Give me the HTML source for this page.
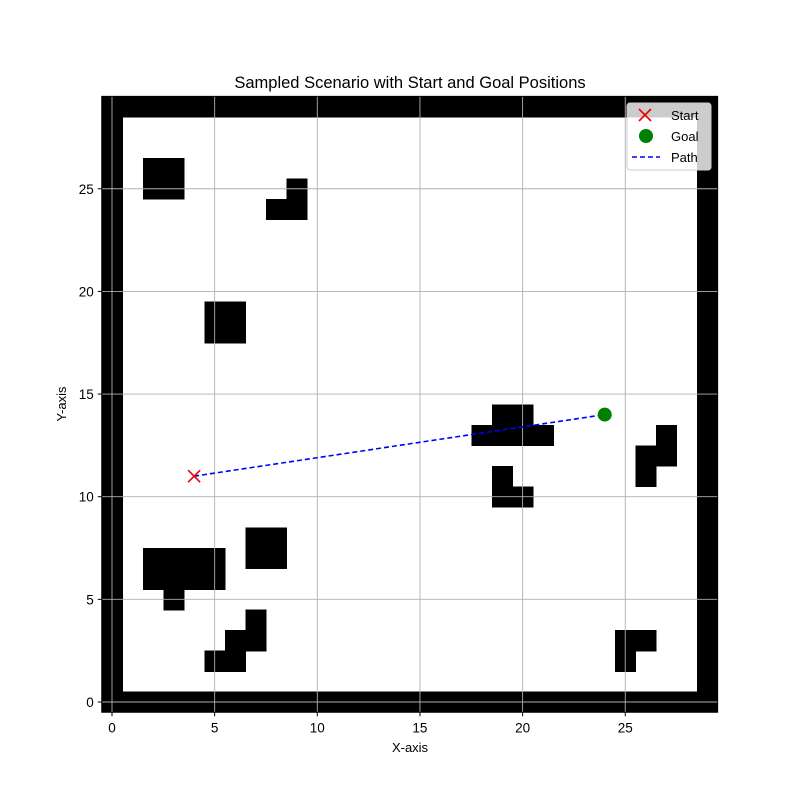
<!DOCTYPE html>
<html><head><meta charset="utf-8"><style>body{margin:0;background:#fff}svg{font-family:"Liberation Sans","DejaVu Sans",sans-serif}</style></head>
<body>
<svg id="chart" width="800" height="800" xmlns="http://www.w3.org/2000/svg">
<rect width="800" height="800" fill="#fff"/>
<g id="cells" shape-rendering="crispEdges"></g>
<g id="grid"></g>
<g id="axes"></g>
<g id="marks"></g>
<text x="410" y="88" text-anchor="middle" font-size="16.5">Sampled Scenario with Start and Goal Positions</text>
<text x="410" y="752" text-anchor="middle" font-size="13">X-axis</text>
<text x="66" y="404" text-anchor="middle" font-size="13" transform="rotate(-90 66 404)">Y-axis</text>
<g>
<rect x="627" y="103" width="84" height="67" rx="3" fill="#fff" fill-opacity="0.8" stroke="#ccc"/>
<path d="M639 109l12 12M651 109l-12 12" stroke="#e00" stroke-width="1.6"/>
<text x="671" y="120" font-size="13">Start</text>
<circle cx="646" cy="136" r="7" fill="green"/>
<text x="671" y="141" font-size="13">Goal</text>
<line x1="632" y1="157" x2="660" y2="157" stroke="blue" stroke-width="1.6" stroke-dasharray="5,3"/>
<text x="671" y="162" font-size="13">Path</text>
</g>
</svg>
<script>
const N = 30;
const obstacles = [[2,25],[3,25],[2,26],[3,26],[9,25],[8,24],[9,24],[5,18],[6,18],[5,19],[6,19],
[19,14],[20,14],[18,13],[19,13],[20,13],[21,13],[27,13],[26,12],[27,12],[26,11],
[19,11],[19,10],[20,10],[7,7],[8,7],[7,8],[8,8],[2,7],[3,7],[4,7],[5,7],[2,6],[3,6],[4,6],[5,6],[3,5],
[7,4],[6,3],[7,3],[5,2],[6,2],[25,3],[26,3],[25,2]];
const ticks = [0,5,10,15,20,25];
const start = [4,11];
const goal = [24,14];
const sx = v => 112 + v*20.53;
const sy = v => 702 - v*20.53;
const ns = "http://www.w3.org/2000/svg";
function mk(tag, attrs, parent){const e=document.createElementNS(ns,tag);for(const k in attrs)e.setAttribute(k,attrs[k]);document.getElementById(parent).appendChild(e);return e;}
const cells=[];
for(let i=0;i<N;i++){cells.push([i,0],[i,N-1]);if(i>0&&i<N-1)cells.push([0,i],[N-1,i]);}
obstacles.forEach(c=>cells.push(c));
cells.forEach(([c,r])=>{
  const x0=Math.max(sx(c-0.5),sx(-0.5)), y0=Math.max(sy(r+0.5),sy(29.5));
  const x1=Math.min(sx(c-0.5)+21.2,sx(29.5)), y1=Math.min(sy(r+0.5)+21.2,sy(-0.5));
  const e=mk('rect',{x:x0,y:y0,width:x1-x0,height:y1-y0,fill:'#000'},'cells');
  
  
});
ticks.forEach(t=>{
  const gx=mk('line',{x1:sx(t),x2:sx(t),y1:sy(-0.5),y2:sy(29.5),stroke:'#b0b0b0','stroke-width':0.9},'grid');
  
  
  const gy=mk('line',{y1:sy(t),y2:sy(t),x1:sx(-0.5),x2:sx(29.5),stroke:'#b0b0b0','stroke-width':0.9},'grid');
  
  
  mk('line',{x1:sx(t),x2:sx(t),y1:sy(-0.5),y2:sy(-0.5)+4,stroke:'#000'},'axes');
  const tx=mk('text',{x:sx(t),y:sy(-0.5)+20,'text-anchor':'middle','font-size':13.5},'axes');tx.textContent=t;
  
  
  mk('line',{x1:sx(-0.5)-4,x2:sx(-0.5),y1:sy(t),y2:sy(t),stroke:'#000'},'axes');
  const ty=mk('text',{x:sx(-0.5)-8,y:sy(t)+5,'text-anchor':'end','font-size':13.5},'axes');ty.textContent=t;
  
  
});
mk('rect',{x:sx(-0.5),y:sy(29.5),width:sx(29.5)-sx(-0.5),height:sy(-0.5)-sy(29.5),fill:'none',stroke:'#000'},'axes');
const p=mk('line',{x1:sx(start[0]),y1:sy(start[1]),x2:sx(goal[0]),y2:sy(goal[1]),stroke:'blue','stroke-width':1.6,'stroke-dasharray':'5,3'},'marks');


const s=mk('path',{d:`M${sx(start[0])-6} ${sy(start[1])-6}l12 12M${sx(start[0])+6} ${sy(start[1])-6}l-12 12`,stroke:'#e00','stroke-width':1.6},'marks');


const g=mk('circle',{cx:sx(goal[0]),cy:sy(goal[1]),r:7,fill:'green'},'marks');


</script>
</body></html>
